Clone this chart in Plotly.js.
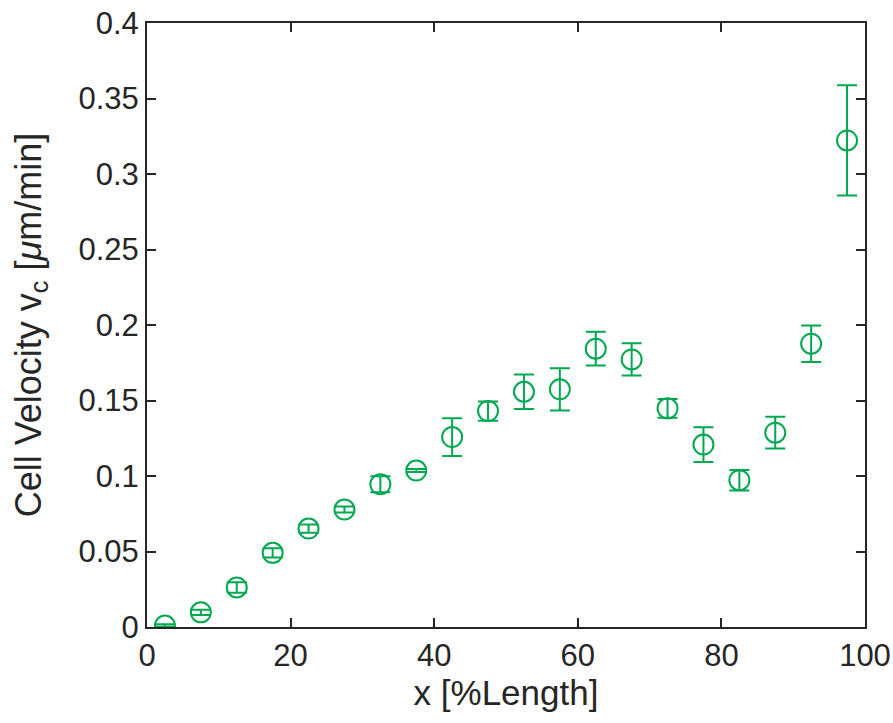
<!DOCTYPE html>
<html>
<head>
<meta charset="utf-8">
<script src="https://cdn.plot.ly/plotly-3.0.1.min.js"></script>
<style>html,body{margin:0;padding:0;background:#fff;}#chart{width:893px;height:723px;}</style>
</head>
<body>
<div id="chart"></div>
<script>
const xPos = [2.5, 7.5, 12.5, 17.5, 22.5, 27.5, 32.5, 37.5, 42.5, 47.5, 52.5, 57.5, 62.5, 67.5, 72.5, 77.5, 82.5, 87.5, 92.5, 97.5];
const velocity = [0.001, 0.0097, 0.0262, 0.0491, 0.0652, 0.0778, 0.0945, 0.1036, 0.1258, 0.143, 0.1558, 0.1574, 0.1843, 0.1772, 0.1448, 0.1208, 0.0972, 0.1287, 0.1876, 0.3222];
const velocityErr = [0.0008, 0.0018, 0.0035, 0.003, 0.0027, 0.002, 0.0053, 0.001, 0.0125, 0.0064, 0.0115, 0.014, 0.0112, 0.0107, 0.0062, 0.0115, 0.0068, 0.0105, 0.0121, 0.0365];
const xTicks = [0, 20, 40, 60, 80, 100];
const yTicks = [0, 0.05, 0.1, 0.15, 0.2, 0.25, 0.3, 0.35, 0.4];
const yTickText = ['0', '0.05', '0.1', '0.15', '0.2', '0.25', '0.3', '0.35', '0.4'];

const green = '#00A84F';
const axisColor = '#262626';
const fontFam = 'Liberation Sans, Arial, Helvetica, sans-serif';

const trace = {
  x: xPos, y: velocity, type: 'scatter', mode: 'markers',
  marker: {symbol: 'circle-open', size: 20, color: green, line: {width: 2, color: green}},
  error_y: {type: 'data', array: velocityErr, visible: true, color: green, thickness: 2, width: 10}
};

const axisCommon = {
  showgrid: false, zeroline: false, showline: true, mirror: 'ticks',
  linecolor: axisColor, linewidth: 2, ticks: 'inside', ticklen: 9, tickwidth: 2, tickcolor: axisColor,
  tickfont: {family: fontFam, size: 31, color: axisColor}
};

const layout = {
  width: 893, height: 723,
  margin: {l: 147, r: 28, t: 23, b: 96},
  paper_bgcolor: '#fff', plot_bgcolor: '#fff',
  showlegend: false,
  xaxis: Object.assign({}, axisCommon, {
    range: [0, 100], tickvals: xTicks, ticktext: xTicks.map(String),
    title: {text: 'x [%Length]', font: {family: fontFam, size: 35, color: axisColor}, standoff: 2}
  }),
  yaxis: Object.assign({}, axisCommon, {
    range: [0, 0.4], tickvals: yTicks, ticktext: yTickText,
    title: {text: 'Cell Velocity v<sub>c</sub> [<i>μ</i>m/min]', font: {family: fontFam, size: 36, color: axisColor}, standoff: 26}
  })
};

Plotly.newPlot('chart', [trace], layout, {displayModeBar: false, staticPlot: true});
</script>
</body>
</html>
